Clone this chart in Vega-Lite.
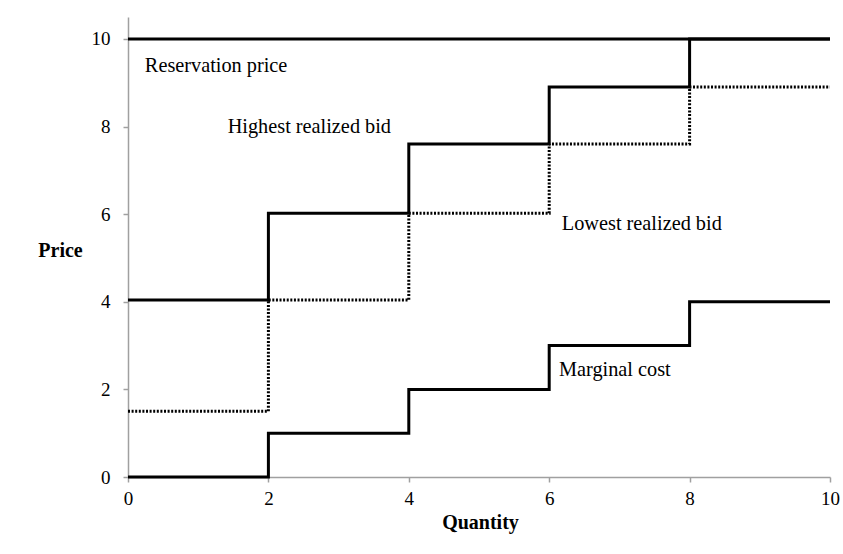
{
  "$schema": "https://vega.github.io/schema/vega-lite/v6.json",
  "width": 702,
  "height": 460,
  "autosize": {"type": "none"},
  "padding": {"left": 128, "top": 17, "right": 13, "bottom": 77},
  "background": "white",
  "config": {
    "view": {"stroke": null},
    "font": "Liberation Serif",
    "axis": {
      "grid": false,
      "domainColor": "#a0a0a0",
      "domainWidth": 1.5,
      "tickColor": "#a0a0a0",
      "tickWidth": 1.5,
      "tickSize": 5,
      "labelFont": "Liberation Serif",
      "labelFontSize": 19,
      "labelColor": "black",
      "titleFont": "Liberation Serif",
      "titleFontSize": 20,
      "titleFontWeight": "bold",
      "titleColor": "black"
    }
  },
  "datasets": {
    "lines": [
      {"series": "Reservation price", "q": 0, "p": 10},
      {"series": "Reservation price", "q": 10, "p": 10},
      {"series": "Highest realized bid", "q": 0, "p": 4.04},
      {"series": "Highest realized bid", "q": 2, "p": 6.02},
      {"series": "Highest realized bid", "q": 4, "p": 7.6},
      {"series": "Highest realized bid", "q": 6, "p": 8.9},
      {"series": "Highest realized bid", "q": 8, "p": 10},
      {"series": "Highest realized bid", "q": 10, "p": 10},
      {"series": "Lowest realized bid", "q": 0, "p": 1.5},
      {"series": "Lowest realized bid", "q": 2, "p": 4.04},
      {"series": "Lowest realized bid", "q": 4, "p": 6.02},
      {"series": "Lowest realized bid", "q": 6, "p": 7.6},
      {"series": "Lowest realized bid", "q": 8, "p": 8.9},
      {"series": "Lowest realized bid", "q": 10, "p": 8.9},
      {"series": "Marginal cost", "q": 0, "p": 0},
      {"series": "Marginal cost", "q": 2, "p": 1},
      {"series": "Marginal cost", "q": 4, "p": 2},
      {"series": "Marginal cost", "q": 6, "p": 3},
      {"series": "Marginal cost", "q": 8, "p": 4},
      {"series": "Marginal cost", "q": 10, "p": 4}
    ],
    "labels": [
      {"label": "Reservation price", "q": 0.24, "p": 9.38},
      {"label": "Highest realized bid", "q": 1.42, "p": 7.99},
      {"label": "Lowest realized bid", "q": 6.18, "p": 5.78},
      {"label": "Marginal cost", "q": 6.14, "p": 2.44}
    ]
  },
  "layer": [
    {
      "data": {"name": "lines"},
      "transform": [{"filter": "datum.series === 'Lowest realized bid'"}],
      "mark": {"type": "line", "interpolate": "step-after", "color": "black", "strokeWidth": 3, "strokeDash": [2, 1.6], "clip": false},
      "encoding": {
        "x": {"field": "q", "type": "quantitative", "scale": {"domain": [0, 10], "nice": false}, "axis": {"values": [0, 2, 4, 6, 8, 10], "format": "d", "labelAlign": "center", "title": "Quantity", "labelPadding": 7, "titleY": 45, "titleBaseline": "middle", "titleX": 352}},
        "y": {"field": "p", "type": "quantitative", "scale": {"domain": [0, 10.5], "nice": false}, "axis": {"values": [0, 2, 4, 6, 8, 10], "format": "d", "title": "Price", "titleAngle": 0, "titleX": -68, "titleY": 233, "titleAlign": "center", "titleBaseline": "middle", "labelPadding": 13}}
      }
    },
    {
      "data": {"name": "lines"},
      "transform": [{"filter": "datum.series !== 'Lowest realized bid'"}],
      "mark": {"type": "line", "interpolate": "step-after", "color": "black", "strokeWidth": 3, "clip": false},
      "encoding": {
        "x": {"field": "q", "type": "quantitative"},
        "y": {"field": "p", "type": "quantitative"},
        "detail": {"field": "series"}
      }
    },
    {
      "data": {"name": "labels"},
      "mark": {"type": "text", "align": "left", "baseline": "middle", "fontSize": 20.3, "font": "Liberation Serif", "color": "black"},
      "encoding": {
        "x": {"field": "q", "type": "quantitative"},
        "y": {"field": "p", "type": "quantitative"},
        "text": {"field": "label"}
      }
    }
  ]
}
